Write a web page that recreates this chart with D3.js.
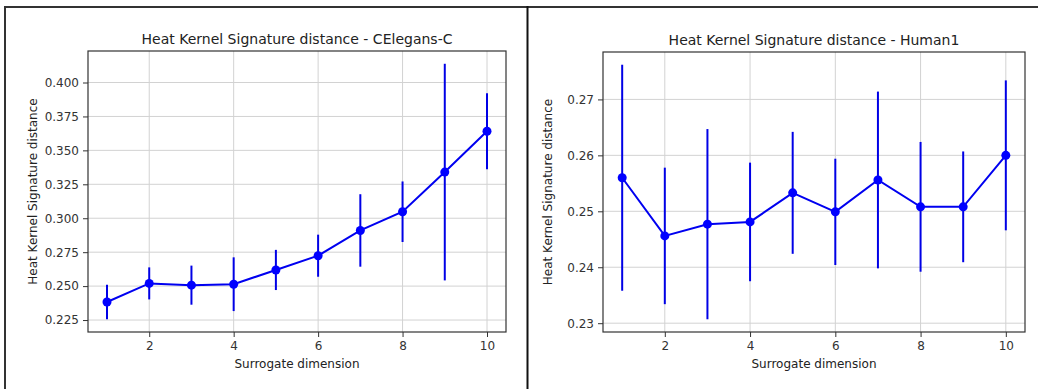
<!DOCTYPE html>
<html>
<head>
<meta charset="utf-8">
<script src="https://cdn.jsdelivr.net/npm/d3@7"></script>
<style>
  html, body { margin: 0; padding: 0; background: #fff; }
  svg { display: block; font-family: "DejaVu Sans", sans-serif; }
</style>
</head>
<body>
<svg id="chart" width="1038" height="389"></svg>
<script>
// ---- data ----
const dimensions = [1, 2, 3, 4, 5, 6, 7, 8, 9, 10];

const celegansMean = [0.2383, 0.2520, 0.2507, 0.2514, 0.2619, 0.2724, 0.2910, 0.3048, 0.3340, 0.3641];
const celegansErr  = [0.0127, 0.0118, 0.0144, 0.0198, 0.0148, 0.0155, 0.0267, 0.0223, 0.0798, 0.0280];

const humanMean = [0.2560, 0.2456, 0.2477, 0.2481, 0.2533, 0.2499, 0.2556, 0.2508, 0.2508, 0.2600];
const humanErr  = [0.0202, 0.0122, 0.0170, 0.0106, 0.0109, 0.0095, 0.0158, 0.0116, 0.0099, 0.0134];

const xTicks = [2, 4, 6, 8, 10];
const celegansYTicks = [0.225, 0.250, 0.275, 0.300, 0.325, 0.350, 0.375, 0.400];
const humanYTicks = [0.23, 0.24, 0.25, 0.26, 0.27];

const titles = ["Heat Kernel Signature distance - CElegans-C", "Heat Kernel Signature distance - Human1"];
const xLabel = "Surrogate dimension";
const yLabel = "Heat Kernel Signature distance";

// ---- drawing ----
const svg = d3.select("#chart");

// outer frame lines (screenshot borders)
svg.append("line").attr("x1", 5).attr("x2", 5).attr("y1", 6).attr("y2", 389)
  .attr("stroke", "#333").attr("stroke-width", 2);
svg.append("line").attr("x1", 4).attr("x2", 1038).attr("y1", 7).attr("y2", 7)
  .attr("stroke", "#333").attr("stroke-width", 2);
svg.append("line").attr("x1", 527.5).attr("x2", 527.5).attr("y1", 6).attr("y2", 389)
  .attr("stroke", "#111").attr("stroke-width", 2);

function panel(cfg) {
  const { left, right, top, bottom, mean, err, yTicks, yFmt, title } = cfg;
  const g = svg.append("g");

  const lo = d3.min(mean.map((m, i) => m - err[i]));
  const hi = d3.max(mean.map((m, i) => m + err[i]));
  const pad = (hi - lo) * 0.05;

  const x = d3.scaleLinear().domain([1 - 0.45, 10 + 0.45]).range([left, right]);
  const y = d3.scaleLinear().domain([lo - pad, hi + pad]).range([bottom, top]);

  // grid
  g.append("g").selectAll("line").data(xTicks).join("line")
    .attr("x1", d => x(d)).attr("x2", d => x(d)).attr("y1", top).attr("y2", bottom)
    .attr("stroke", "#d2d2d2").attr("stroke-width", 1);
  g.append("g").selectAll("line").data(yTicks).join("line")
    .attr("x1", left).attr("x2", right).attr("y1", d => y(d)).attr("y2", d => y(d))
    .attr("stroke", "#d2d2d2").attr("stroke-width", 1);

  // axes
  const xAxis = d3.axisBottom(x).tickValues(xTicks).tickSize(5).tickPadding(4).tickFormat(d3.format("d"));
  const yAxis = d3.axisLeft(y).tickValues(yTicks).tickSize(5).tickPadding(4).tickFormat(d3.format(yFmt));

  const gx = g.append("g").attr("transform", `translate(0,${bottom})`).call(xAxis);
  const gy = g.append("g").attr("transform", `translate(${left},0)`).call(yAxis);
  [gx, gy].forEach(a => {
    a.select(".domain").remove();
    a.selectAll(".tick line").attr("stroke", "#333").attr("stroke-width", 1);
    a.selectAll(".tick text").attr("fill", "#333").style("font-size", "12px")
      .style("font-family", "'DejaVu Sans', sans-serif");
  });

  // spines
  g.append("rect").attr("x", left).attr("y", top).attr("width", right - left).attr("height", bottom - top)
    .attr("fill", "none").attr("stroke", "#333").attr("stroke-width", 1.2);

  // error bars
  g.append("g").selectAll("line").data(dimensions).join("line")
    .attr("x1", (d) => x(d)).attr("x2", (d) => x(d))
    .attr("y1", (d, i) => y(mean[i] - err[i])).attr("y2", (d, i) => y(mean[i] + err[i]))
    .attr("stroke", "#0000e6").attr("stroke-width", 2);

  // line
  const line = d3.line().x((d, i) => x(dimensions[i])).y(d => y(d));
  g.append("path").datum(mean).attr("d", line)
    .attr("fill", "none").attr("stroke", "#0000f0").attr("stroke-width", 2);

  // markers
  g.append("g").selectAll("circle").data(mean).join("circle")
    .attr("cx", (d, i) => x(dimensions[i])).attr("cy", d => y(d)).attr("r", 4.5)
    .attr("fill", "#0000ff");

  // title
  g.append("text").attr("x", (left + right) / 2).attr("y", top - 7)
    .attr("text-anchor", "middle").attr("fill", "#222").style("font-size", "14px").text(title);

  // x label
  g.append("text").attr("x", (left + right) / 2).attr("y", bottom + 36)
    .attr("text-anchor", "middle").attr("fill", "#222").style("font-size", "12px").text(xLabel);

  // y label
  g.append("text")
    .attr("transform", `translate(${left - 51},${(top + bottom) / 2}) rotate(-90)`)
    .attr("text-anchor", "middle").attr("fill", "#222").style("font-size", "12px").text(yLabel);
}

panel({ left: 88, right: 506, top: 51, bottom: 332, mean: celegansMean, err: celegansErr,
        yTicks: celegansYTicks, yFmt: ".3f", title: titles[0] });
panel({ left: 603, right: 1025, top: 52, bottom: 332, mean: humanMean, err: humanErr,
        yTicks: humanYTicks, yFmt: ".2f", title: titles[1] });
</script>
</body>
</html>
